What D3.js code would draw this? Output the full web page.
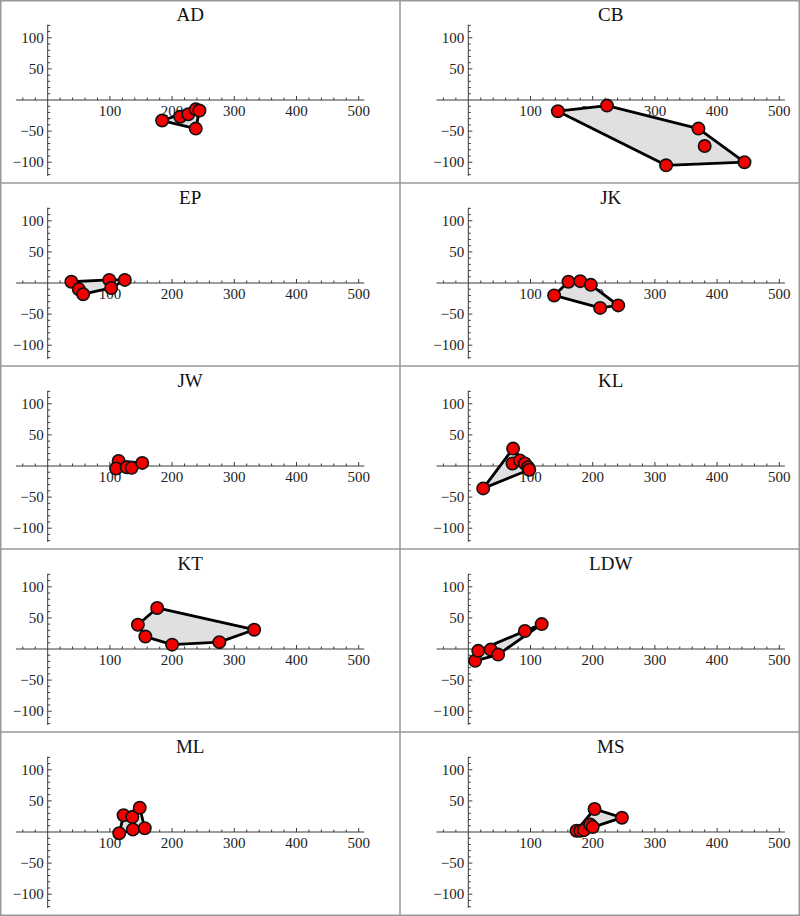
<!DOCTYPE html>
<html><head><meta charset="utf-8">
<script src="https://cdn.jsdelivr.net/npm/d3@7"></script>
<style>body{margin:0;background:#fff}svg{display:block}text{font-family:"Liberation Serif","DejaVu Serif",serif}</style>
</head><body><svg id="c" width="800" height="916"></svg>
<script>
const panelNames = ["AD","CB","EP","JK","JW","KL","KT","LDW","ML","MS"];
const AD  = [[184,-33],[213,-27],[226,-23],[238,-15],[244,-17],[238,-46]];
const CB  = [[144,-18],[223,-9],[370,-46],[380,-74],[444,-100],[318,-105]];
const EP  = [[38,2],[50,-10],[57,-18],[99,5],[102,-8],[124,5]];
const JK  = [[138,-20],[161,2],[180,3],[197,-3],[212,-40],[241,-36]];
const JW  = [[114,8],[110,-4],[127,-2],[135,-3],[152,5]];
const KL  = [[24,-36],[72,28],[71,4],[83,9],[91,4],[96,-2],[98,-6]];
const KT  = [[176,66],[145,39],[157,20],[200,7],[276,11],[332,31]];
const LDW = [[11,-19],[16,-3],[36,-1],[48,-9],[91,29],[118,40]];
const ML  = [[115,-2],[122,27],[136,24],[148,39],[137,4],[156,6]];
const MS  = [[174,2],[180,2],[186,3],[196,12],[200,8],[203,37],[247,23]];
const panelData = [AD,CB,EP,JK,JW,KL,KT,LDW,ML,MS];
const xTickLabels = [100,200,300,400,500];
const yTickLabels = [100,50,-50,-100];
const xDomain = [-51,509];
const yDomain = [-122,121];

const svg = d3.select("#c");
const rowTops = [0,183,366,549,732];
const k = 0.622;

panelNames.forEach((name,i)=>{
  const col = i%2, row = Math.floor(i/2);
  const ox = col===0 ? 47.7 : 468.3;
  const oy = rowTops[row] + 100;
  const x = d3.scaleLinear().domain([0,100]).range([ox, ox+100*k]);
  const y = d3.scaleLinear().domain([0,100]).range([oy, oy-100*k]);
  const g = svg.append("g");
  const ax = "#3a3a3a";
  g.append("line").attr("x1",x(xDomain[0])).attr("x2",x(xDomain[1])).attr("y1",y(0)).attr("y2",y(0)).attr("stroke",ax).attr("stroke-width",1);
  g.append("line").attr("x1",x(0)).attr("x2",x(0)).attr("y1",y(yDomain[0])).attr("y2",y(yDomain[1])).attr("stroke",ax).attr("stroke-width",1);
  d3.range(-40,501,20).forEach(v=>{
    if(v===0) return;
    const major = v%100===0;
    g.append("line").attr("x1",x(v)).attr("x2",x(v)).attr("y1",y(0)).attr("y2",y(0)-(major?4:2.5)).attr("stroke",ax).attr("stroke-width",1);
  });
  xTickLabels.forEach(v=>{
    g.append("text").attr("x",x(v)).attr("y",y(0)+15.5).attr("text-anchor","middle")
      .attr("font-size",15).attr("fill","#222").text(v);
  });
  d3.range(-120,121,10).forEach(v=>{
    if(v===0) return;
    const major = v%50===0;
    g.append("line").attr("x1",x(0)).attr("x2",x(0)+(major?4:2.5)).attr("y1",y(v)).attr("y2",y(v)).attr("stroke",ax).attr("stroke-width",1);
  });
  yTickLabels.forEach(v=>{
    g.append("text").attr("x",x(0)-4).attr("y",y(v)).attr("dy","0.35em").attr("text-anchor","end")
      .attr("font-size",15).attr("fill","#222")
      .text(v<0 ? "\u2212"+Math.abs(v) : v);
  });
  g.append("text").attr("x",x((xDomain[0]+xDomain[1])/2)).attr("y",rowTops[row]+21).attr("text-anchor","middle")
    .attr("font-size",19).attr("fill","#111").text(name);
  const pts = panelData[i];
  const hull = d3.polygonHull(pts);
  g.append("path").attr("d","M"+hull.map(p=>[x(p[0]),y(p[1])].join(",")).join("L")+"Z")
    .attr("fill","#e0e0e0").attr("stroke","#000").attr("stroke-width",2.8).attr("stroke-linejoin","round");
  g.selectAll("circle.p").data(pts).enter().append("circle")
    .attr("cx",d=>x(d[0])).attr("cy",d=>y(d[1])).attr("r",6.2)
    .attr("fill","#f20000").attr("stroke","#111").attr("stroke-width",1.6);
});
const bc = "#999";
svg.append("rect").attr("x",0.75).attr("y",0.75).attr("width",798.5).attr("height",914.5).attr("fill","none").attr("stroke",bc).attr("stroke-width",1.5);
svg.append("line").attr("x1",400).attr("x2",400).attr("y1",0).attr("y2",916).attr("stroke",bc).attr("stroke-width",1.5);
rowTops.slice(1).forEach(t=>{
  svg.append("line").attr("x1",0).attr("x2",800).attr("y1",t).attr("y2",t).attr("stroke",bc).attr("stroke-width",1.5);
});
</script></body></html>
